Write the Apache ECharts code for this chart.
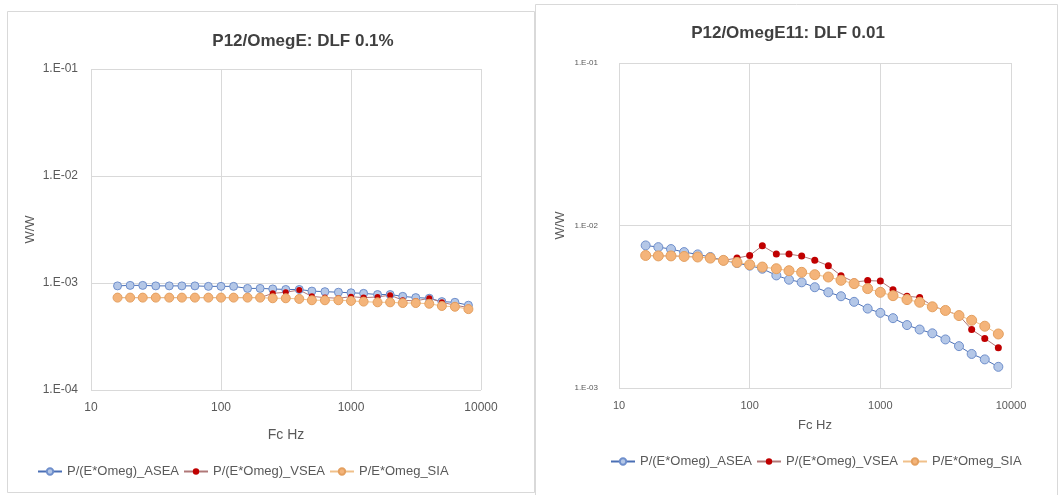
<!DOCTYPE html>
<html><head><meta charset="utf-8">
<script src="https://cdn.jsdelivr.net/npm/echarts@6/dist/echarts.min.js"></script>
<style>html,body{margin:0;padding:0;background:#fff}#c{width:1059px;height:495px}</style>
</head><body><div id="c"></div>
<script>
const freqs = [16,20,25,31.5,40,50,63,80,100,125,160,200,250,315,400,500,630,800,1000,1250,1600,2000,2500,3150,4000,5000,6300,8000];
const seriesNames = ['P/(E*Omeg)_ASEA','P/(E*Omeg)_VSEA','P/E*Omeg_SIA'];
const titles = ['P12/OmegE: DLF 0.1%','P12/OmegE11: DLF 0.01'];
const xAxisName = 'Fc Hz';
const yAxisName = 'W/W';
// Left chart
const leftASEA = [0.00094,0.00095,0.00095,0.00094,0.00094,0.00094,0.00094,0.00093,0.00093,0.00093,0.00089,0.00089,0.00088,0.00087,0.00087,0.00084,0.00083,0.00082,0.00081,0.00080,0.00078,0.00078,0.00075,0.00073,0.00072,0.00067,0.00066,0.00062];
const leftVSEA = [0.00073,0.00073,0.00073,0.00073,0.00073,0.00073,0.00073,0.00073,0.00073,0.00073,0.00073,0.00073,0.00080,0.00082,0.00086,0.00075,0.00073,0.00072,0.000745,0.00073,0.00074,0.00077,0.00069,0.00068,0.00072,0.00066,0.00062,0.00059];
const leftSIA  = [0.00073,0.00073,0.00073,0.00073,0.00073,0.00073,0.00073,0.00073,0.00073,0.00073,0.00073,0.00073,0.00072,0.00072,0.00071,0.00069,0.00069,0.00069,0.00068,0.00067,0.00066,0.00066,0.00065,0.00065,0.00064,0.00061,0.00060,0.00057];
// Right chart
const rightASEA = [0.00754,0.00736,0.00716,0.00686,0.00664,0.0064,0.0061,0.00587,0.00566,0.00542,0.00493,0.00464,0.00447,0.00417,0.00388,0.00367,0.00339,0.00308,0.0029,0.00269,0.00244,0.00229,0.00217,0.00199,0.00181,0.00162,0.0015,0.00135];
const rightVSEA = [0.00654,0.0065,0.0065,0.00645,0.0064,0.0063,0.0061,0.0063,0.00654,0.0075,0.00667,0.00667,0.00648,0.00612,0.00566,0.00491,0.00449,0.00458,0.00455,0.00403,0.00367,0.00361,0.0032,0.003,0.0028,0.00229,0.00202,0.00177];
const rightSIA  = [0.00654,0.0065,0.0065,0.00645,0.0064,0.0063,0.0061,0.00593,0.00574,0.00555,0.00542,0.00527,0.00515,0.00498,0.00482,0.0046,0.00439,0.00409,0.00388,0.0037,0.0035,0.00337,0.00316,0.003,0.00279,0.00261,0.0024,0.00215];

const FONT = 'Liberation Sans';
const pair = (xs, ys) => xs.map((x, i) => [x, ys[i]]);
const yFmt = v => { const e = Math.round(Math.log10(v)); return '1.E' + (e < 0 ? '-' : '+') + String(Math.abs(e)).padStart(2, '0'); };

const styles = [
  {line:'#4a6fb5', lw:1, sym:'circle', size:[8,9], fill:'#b4c7e7', border:'#6f8fcc', bw:1},
  {line:'#b07878', lw:1, sym:'circle', size:[6,7], fill:'#c00000', border:'#c00000', bw:0},
  {line:'#f0c08a', lw:1, sym:'circle', size:[9,10], fill:'#f4b47a', border:'#e4a060', bw:1}
];
function mkSeries(gi, datas) {
  return datas.map((d, k) => ({
    name: seriesNames[k], type: 'line', xAxisIndex: gi, yAxisIndex: gi,
    data: pair(freqs, d), symbol: styles[k].sym, symbolSize: styles[k].size[gi],
    lineStyle: {color: styles[k].line, width: styles[k].lw},
    itemStyle: {color: styles[k].fill, borderColor: styles[k].border, borderWidth: styles[k].bw},
    emphasis: {disabled: true}, animation: false
  }));
}
const gridLine = {show: true, lineStyle: {color: '#d9d9d9', width: 1}};
function xAx(gi, fs, gap) {
  return {type:'log', logBase:10, min:10, max:10000, gridIndex:gi,
    name:xAxisName, nameLocation:'middle', nameGap:gap,
    nameTextStyle:{fontFamily:FONT, fontSize:fs+2, color:'#595959'},
    axisLine:{show:false}, axisTick:{show:false}, splitLine:gridLine, minorTick:{show:false},
    axisLabel:{fontFamily:FONT, fontSize:fs, color:'#595959', margin:12, formatter: v => String(Math.round(v))}};
}
function yAx(gi, min, fs, gap, margin) {
  return {type:'log', logBase:10, min:min, max:0.1, gridIndex:gi,
    name:yAxisName, nameLocation:'middle', nameGap:gap, nameRotate:90,
    nameTextStyle:{fontFamily:FONT, fontSize:13, color:'#595959'},
    axisLine:{show:false}, axisTick:{show:false}, splitLine:gridLine,
    axisLabel:{fontFamily:FONT, fontSize:fs, color:'#595959', margin:margin, formatter:yFmt}};
}
const chart = echarts.init(document.getElementById('c'), null, {renderer:'canvas'});
chart.setOption({
  backgroundColor:'#fff',
  animation:false,
  graphic:[
    {type:'rect', shape:{x:7.5, y:11.5, width:527, height:481}, style:{fill:'none', stroke:'#d9d9d9', lineWidth:1}, silent:true},
    {type:'rect', shape:{x:535.5, y:4.5, width:522, height:500}, style:{fill:'none', stroke:'#d9d9d9', lineWidth:1}, silent:true}
  ],
  title:[
    {text:titles[0], left:298, top:28, textAlign:'center', textStyle:{fontFamily:FONT, fontWeight:'bold', fontSize:17, color:'#404040'}},
    {text:titles[1], left:783, top:20, textAlign:'center', textStyle:{fontFamily:FONT, fontWeight:'bold', fontSize:17, color:'#404040'}}
  ],
  legend:[
    {data:seriesNames.map(n=>({name:n})), left:32, top:460, itemWidth:24, itemHeight:8, itemGap:4,
     textStyle:{fontFamily:FONT, fontSize:13, color:'#595959'}, selectedMode:false},
    {data:seriesNames.map(n=>({name:n})), left:605, top:450, itemWidth:24, itemHeight:8, itemGap:4,
     textStyle:{fontFamily:FONT, fontSize:13, color:'#595959'}, selectedMode:false}
  ],
  grid:[
    {left:91, top:69, width:390, height:321},
    {left:619, top:63, width:392, height:325}
  ],
  xAxis:[xAx(0, 12, 38), xAx(1, 11, 31)],
  yAxis:[yAx(0, 0.0001, 12, 54, 13), yAx(1, 0.001, 8, 52, 21)],
  series:[...mkSeries(0, [leftASEA, leftVSEA, leftSIA]), ...mkSeries(1, [rightASEA, rightVSEA, rightSIA])]
});
</script></body></html>
